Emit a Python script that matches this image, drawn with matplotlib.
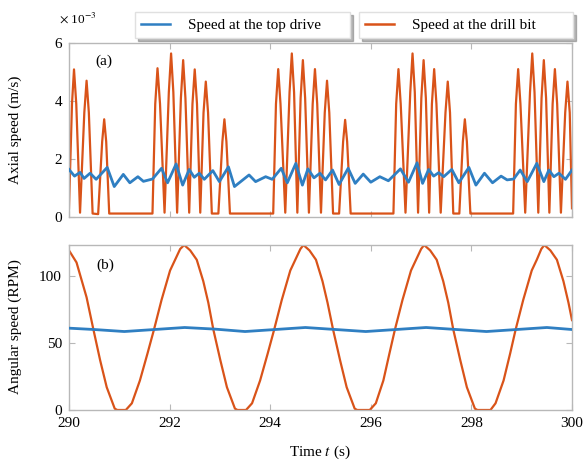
import matplotlib
matplotlib.use("Agg")
import matplotlib.pyplot as plt
from matplotlib.lines import Line2D

plt.rcParams['font.family'] = ['Liberation Serif', 'DejaVu Serif']
plt.rcParams['mathtext.fontset'] = 'stix'

# ---- data ----
# (a) axial speed, values in units of 1e-3 m/s, (time, value) pairs
top_drive_axial = [
    (290.00, 1.64), (290.11, 1.41), (290.22, 1.54), (290.30, 1.33), (290.42, 1.51), (290.54, 1.30),
    (290.76, 1.71), (290.90, 1.05), (291.08, 1.47), (291.21, 1.18), (291.37, 1.39), (291.48, 1.23),
    (291.66, 1.31), (291.84, 1.68), (291.96, 1.18), (292.13, 1.83), (292.26, 1.10), (292.39, 1.64),
    (292.49, 1.37), (292.59, 1.51), (292.69, 1.30), (292.86, 1.60), (292.99, 1.22), (293.17, 1.73),
    (293.29, 1.05), (293.58, 1.45), (293.71, 1.22), (293.91, 1.39), (294.04, 1.30), (294.22, 1.68),
    (294.34, 1.18), (294.51, 1.85), (294.64, 1.10), (294.75, 1.66), (294.87, 1.35), (294.99, 1.51),
    (295.10, 1.28), (295.24, 1.62), (295.37, 1.12), (295.55, 1.68), (295.69, 1.16), (295.85, 1.48),
    (296.00, 1.20), (296.18, 1.39), (296.35, 1.25), (296.59, 1.66), (296.75, 1.20), (296.92, 1.87),
    (297.03, 1.16), (297.15, 1.64), (297.25, 1.41), (297.35, 1.53), (297.45, 1.39), (297.61, 1.64),
    (297.75, 1.18), (297.95, 1.71), (298.09, 1.10), (298.26, 1.51), (298.42, 1.18), (298.59, 1.41),
    (298.71, 1.28), (298.84, 1.31), (298.97, 1.62), (299.11, 1.22), (299.30, 1.85), (299.44, 1.22),
    (299.54, 1.62), (299.64, 1.39), (299.74, 1.51), (299.87, 1.30), (300.00, 1.62),
]

bit_axial = [
    (290.00, 0.30), (290.06, 3.9), (290.10, 5.09), (290.145, 3.9), (290.22, 0.15),
    (290.305, 3.6), (290.35, 4.70), (290.395, 3.6), (290.47, 0.12), (290.58, 0.10),
    (290.66, 2.6), (290.70, 3.37), (290.74, 2.6), (290.80, 0.12), (291.66, 0.12),
    (291.715, 3.9), (291.76, 5.13), (291.81, 3.9), (291.90, 0.15),
    (291.985, 4.3), (292.03, 5.64), (292.075, 4.3), (292.15, 0.15),
    (292.225, 4.1), (292.27, 5.41), (292.315, 4.1), (292.39, 0.15),
    (292.455, 3.9), (292.50, 5.09), (292.545, 3.9), (292.61, 0.15),
    (292.675, 3.6), (292.72, 4.67), (292.765, 3.6), (292.84, 0.12), (292.97, 0.12),
    (293.05, 2.6), (293.09, 3.37), (293.13, 2.6), (293.20, 0.12), (294.06, 0.12),
    (294.115, 3.9), (294.16, 5.10), (294.205, 3.9), (294.30, 0.15),
    (294.385, 4.3), (294.43, 5.64), (294.475, 4.3), (294.54, 0.15),
    (294.605, 4.1), (294.65, 5.41), (294.695, 4.1), (294.77, 0.15),
    (294.845, 3.9), (294.89, 5.10), (294.935, 3.9), (295.01, 0.15),
    (295.085, 3.6), (295.13, 4.70), (295.175, 3.6), (295.25, 0.12), (295.37, 0.12),
    (295.45, 2.6), (295.49, 3.35), (295.53, 2.6), (295.60, 0.12), (296.45, 0.12),
    (296.505, 3.9), (296.55, 5.10), (296.595, 3.9), (296.69, 0.15),
    (296.785, 4.3), (296.83, 5.64), (296.875, 4.3), (296.94, 0.15),
    (297.005, 4.1), (297.05, 5.41), (297.095, 4.1), (297.16, 0.15),
    (297.215, 3.9), (297.26, 5.10), (297.305, 3.9), (297.39, 0.15),
    (297.485, 3.6), (297.53, 4.67), (297.575, 3.6), (297.64, 0.12), (297.76, 0.12),
    (297.83, 2.6), (297.87, 3.37), (297.91, 2.6), (297.98, 0.12), (298.83, 0.12),
    (298.885, 3.9), (298.93, 5.10), (298.975, 3.9), (299.07, 0.15),
    (299.165, 4.3), (299.21, 5.64), (299.255, 4.3), (299.33, 0.15),
    (299.395, 4.1), (299.44, 5.41), (299.485, 4.1), (299.55, 0.15),
    (299.615, 3.9), (299.66, 5.10), (299.705, 3.9), (299.78, 0.15),
    (299.865, 3.6), (299.91, 4.67), (299.955, 3.6), (300.00, 0.30),
]

# (b) angular speed, RPM
top_drive_rpm_t = [290.0, 290.5, 291.1, 291.7, 292.3, 292.9, 293.5, 294.1, 294.7,
                   295.3, 295.9, 296.5, 297.1, 297.7, 298.3, 298.9, 299.5, 300.0]
top_drive_rpm_v = [61.0, 60.0, 58.5, 60.0, 61.5, 60.3, 58.5, 60.0, 61.5,
                   60.0, 58.5, 60.0, 61.5, 60.0, 58.5, 60.0, 61.5, 60.0]

bit_rpm_t = [290.00, 290.15, 290.35, 290.48, 290.62, 290.75, 290.91, 290.96, 291.13, 291.25,
             291.41, 291.56, 291.69, 291.84, 292.01, 292.11, 292.21, 292.29, 292.41, 292.54,
             292.67, 292.77, 292.87, 293.01, 293.14, 293.30, 293.35, 293.52, 293.64, 293.80,
             293.95, 294.08, 294.23, 294.40, 294.50, 294.60, 294.66, 294.78, 294.91, 295.04,
             295.14, 295.25, 295.39, 295.52, 295.68, 295.73, 295.98, 296.10, 296.25, 296.37,
             296.48, 296.63, 296.80, 296.90, 297.00, 297.06, 297.18, 297.31, 297.44, 297.54,
             297.64, 297.78, 297.91, 298.07, 298.12, 298.38, 298.48, 298.64, 298.77, 298.88,
             299.03, 299.20, 299.30, 299.39, 299.45, 299.57, 299.70, 299.83, 299.93, 300.00]
bit_rpm_v = [119, 110, 84, 61, 37, 17, 1, 0, 0, 5,
             22, 42, 60, 82, 104, 112, 120, 123, 119, 112,
             96, 80, 60, 37, 17, 1, 0, 0, 5, 22,
             42, 60, 82, 104, 112, 120, 123, 119, 112, 96,
             80, 60, 37, 17, 1, 0, 0, 5, 22, 42,
             60, 82, 104, 112, 120, 123, 119, 112, 96, 80,
             60, 37, 17, 1, 0, 0, 5, 22, 42, 60,
             82, 104, 112, 120, 123, 119, 112, 96, 80, 67]

time_ticks = [290, 292, 294, 296, 298, 300]
legend_labels = ['Speed at the top drive', 'Speed at the drill bit']

blue = '#2f7fc2'
orange = '#d95319'
grey = '#b8b8b8'

fig = plt.figure(figsize=(5.86, 4.65), dpi=100)
ax1 = fig.add_axes([0.1177, 0.5333, 0.8584, 0.3742])
ax2 = fig.add_axes([0.1177, 0.1183, 0.8584, 0.3548])

ax1.plot([p[0] for p in top_drive_axial], [p[1] for p in top_drive_axial],
         color=blue, lw=2.0, zorder=3)
ax1.plot([p[0] for p in bit_axial], [p[1] for p in bit_axial],
         color=orange, lw=1.6, zorder=2)
ax2.plot(top_drive_rpm_t, top_drive_rpm_v, color=blue, lw=2.0, zorder=3)
ax2.plot(bit_rpm_t, bit_rpm_v, color=orange, lw=1.6, zorder=2)

ax1.set_xlim(290, 300)
ax1.set_ylim(0, 6)
ax1.set_yticks([0, 2, 4, 6])
ax1.set_xticks(time_ticks)
ax1.set_xticklabels([])
ax2.set_xlim(290, 300)
ax2.set_ylim(0, 123)
ax2.set_yticks([0, 50, 100])
ax2.set_xticks(time_ticks)

for ax in (ax1, ax2):
    for s in ax.spines.values():
        s.set_color(grey)
        s.set_linewidth(1.0)
    ax.tick_params(direction='in', length=4, width=0.8, color=grey,
                   top=True, right=True, labelsize=11, pad=5)

ax1.text(0.052, 0.895, '(a)', transform=ax1.transAxes, fontsize=11, va='center')
ax2.text(0.054, 0.88, '(b)', transform=ax2.transAxes, fontsize=11, va='center')

fig.text(15 / 586, 1 - 130 / 465, 'Axial speed (m/s)', rotation=90,
         ha='center', va='center', fontsize=11)
fig.text(15 / 586, 1 - 327 / 465, 'Angular speed (RPM)', rotation=90,
         ha='center', va='center', fontsize=11)
fig.text(320 / 586, 1 - 452 / 465, 'Time $t$ (s)', ha='center', va='center', fontsize=11)
fig.text(59 / 586, 1 - 18 / 465, r'$\times$ 10$^{-3}$', ha='left', va='center', fontsize=9.5)

# two separate legend boxes above the top panel
h_blue = Line2D([], [], color=blue, lw=1.8)
h_orange = Line2D([], [], color=orange, lw=1.8)
for h, lab, x0, x1 in [(h_blue, legend_labels[0], 135, 350), (h_orange, legend_labels[1], 359, 573)]:
    fig.legend(handles=[h], labels=[lab], loc='lower left',
               bbox_to_anchor=(x0 / 586, 1 - 38 / 465, (x1 - x0) / 586, 0.05),
               mode='expand', borderaxespad=0, fontsize=11, frameon=True,
               fancybox=False, edgecolor='#e0e0e0', shadow={'color': '0.45', 'alpha': 0.5},
               handlelength=1.9, handletextpad=1.2, borderpad=0.4)

fig.savefig('out.png', dpi=100)
